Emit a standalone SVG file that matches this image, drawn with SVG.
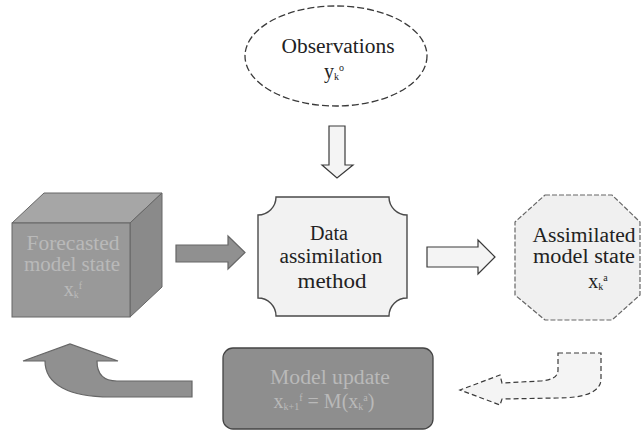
<svg xmlns="http://www.w3.org/2000/svg" width="641" height="431" viewBox="0 0 641 431">
<style>
  .t { font-family: "Liberation Serif", "DejaVu Serif", "Times New Roman", serif; font-size: 20px; fill: #222; text-anchor: middle; }
  .tl { fill: #b9b9b9; }
  .s { font-size: 10px; }
  .hollow { fill: #f4f4f4; stroke: #3a3a3a; stroke-width: 1.2; }
  .gray { fill: #909090; stroke: #666; stroke-width: 1.2; }
</style>
<rect width="641" height="431" fill="#ffffff"/>

<g id="connectors">
  <path id="arrow-obs-da" class="hollow" d="M329 126 H345 V165 H353 L337 178 L322 165 H329 Z"/>
  <path id="arrow-fc-da" class="gray" d="M176 245 H228 V236 L245 252.5 L228 269 V262 H176 Z"/>
  <path id="arrow-da-as" class="hollow" d="M427 247 H478 V240 L495 257 L478 274 V267 H427 Z"/>
  <path id="arrow-as-mu" class="hollow" stroke-dasharray="5 3" d="M558 353 H601 V380 C600 392 585 398 557 398 L502 399 L500 405 L460 390 L500 375 L502 383 L540 381 C552 380 558 377 558 370 Z"/>
  <path id="arrow-mu-fc" class="gray" d="M192 381 H117 Q97 381 97 361 H118 L70 344 L23 361 H45 C45 385 70 397 110 397 H192 Z"/>
</g>

<g id="node-observations">
  <ellipse cx="336" cy="56" rx="91" ry="50" fill="#ffffff" stroke="#3a3a3a" stroke-width="1.3" stroke-dasharray="7 3"/>
  <text class="t" x="338" y="53" textLength="113" lengthAdjust="spacingAndGlyphs">Observations</text>
  <text class="t" x="334" y="78">y<tspan class="s" dy="2">k</tspan><tspan class="s" dy="-9">o</tspan></text>
</g>

<g id="node-forecast">
  <polygon points="12,223 44,193 162,193 130,223" fill="#a6a6a6" stroke="#666" stroke-width="1"/>
  <polygon points="130,223 162,193 162,287 130,317" fill="#8a8a8a" stroke="#666" stroke-width="1"/>
  <rect x="12" y="223" width="118" height="94" fill="#999999" stroke="#666" stroke-width="1"/>
  <text class="t tl" x="73" y="250" textLength="93" lengthAdjust="spacingAndGlyphs">Forecasted</text>
  <text class="t tl" x="72" y="271" textLength="96" lengthAdjust="spacingAndGlyphs">model state</text>
  <text class="t tl" x="73" y="296">x<tspan class="s" dy="2">k</tspan><tspan class="s" dy="-9">f</tspan></text>
</g>

<g id="node-da">
  <path d="M276 197 H389 A18 18 0 0 0 407 215 V298 A18 18 0 0 0 389 316 H276 A18 18 0 0 0 258 298 V215 A18 18 0 0 0 276 197 Z" fill="#f2f2f2" stroke="#4a4a4a" stroke-width="1.4"/>
  <text class="t" x="329" y="240" textLength="38" lengthAdjust="spacingAndGlyphs">Data</text>
  <text class="t" x="331" y="263" textLength="103" lengthAdjust="spacingAndGlyphs">assimilation</text>
  <text class="t" x="332" y="288" textLength="69" lengthAdjust="spacingAndGlyphs">method</text>
</g>

<g id="node-assimilated">
  <polygon points="545,195 612,195 640,222 640,295 612,320 545,320 515,295 515,222" fill="#f0f0f0" stroke="#666" stroke-width="1.2" stroke-dasharray="5 2"/>
  <text class="t" x="584" y="242" textLength="103" lengthAdjust="spacingAndGlyphs">Assimilated</text>
  <text class="t" x="584" y="263" textLength="102" lengthAdjust="spacingAndGlyphs">model state</text>
  <text class="t" x="598" y="288">x<tspan class="s" dy="2">k</tspan><tspan class="s" dy="-9">a</tspan></text>
</g>

<g id="node-update">
  <rect x="223" y="348" width="210" height="81" rx="10" ry="10" fill="#8e8e8e" stroke="#444" stroke-width="1.3"/>
  <text class="t tl" x="330" y="384" textLength="120" lengthAdjust="spacingAndGlyphs">Model update</text>
  <text class="t tl" x="324" y="408">x<tspan class="s" dy="2">k+1</tspan><tspan class="s" dy="-9">f</tspan><tspan dy="7"> = M(x</tspan><tspan class="s" dy="2">k</tspan><tspan class="s" dy="-9">a</tspan><tspan dy="7">)</tspan></text>
</g>
</svg>
